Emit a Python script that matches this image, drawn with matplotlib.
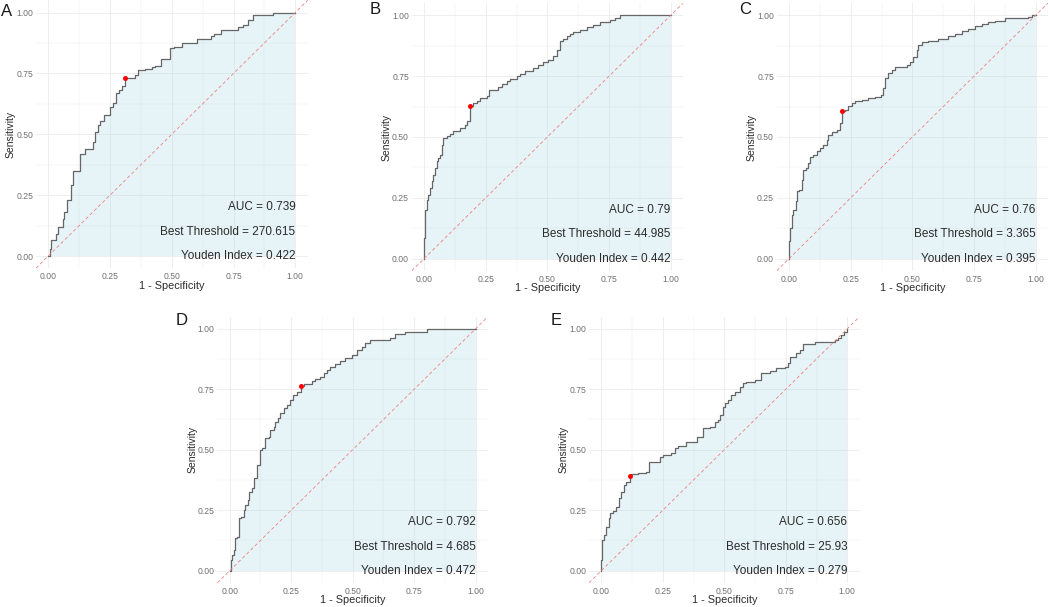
import matplotlib
matplotlib.use('Agg')
import matplotlib.pyplot as plt

plt.rcParams['font.family'] = ['Liberation Sans', 'DejaVu Sans']

# ── ROC curve vertices (fpr, tpr) ─────────────────────────────────────────────
fpr_a = [0, 0.005, 0.01, 0.03, 0.04, 0.06, 0.065, 0.075, 0.09, 0.10, 0.128, 0.15, 0.18, 0.19,
         0.20, 0.21, 0.225, 0.25, 0.26, 0.275, 0.285, 0.30, 0.31, 0.35, 0.365, 0.39, 0.42, 0.43,
         0.455, 0.493, 0.51, 0.54, 0.60, 0.66, 0.67, 0.70, 0.77, 0.79, 0.81, 0.83, 0.91, 1.0]
tpr_a = [0, 0.03, 0.066, 0.09, 0.12, 0.15, 0.18, 0.23, 0.29, 0.35, 0.42, 0.44, 0.47, 0.51,
         0.54, 0.555, 0.58, 0.61, 0.63, 0.67, 0.68, 0.70, 0.73, 0.745, 0.765, 0.77, 0.775, 0.78,
         0.81, 0.855, 0.86, 0.875, 0.89, 0.905, 0.91, 0.93, 0.94, 0.95, 0.97, 0.99, 1.0, 1.0]

fpr_b = [0, 0, 0.004, 0.011, 0.018, 0.024, 0.031, 0.038, 0.045, 0.051, 0.058, 0.065, 0.072,
         0.078, 0.092, 0.105, 0.119, 0.146, 0.166, 0.175, 0.186, 0.2, 0.214, 0.227, 0.254, 0.265,
         0.301, 0.315, 0.335, 0.349, 0.376, 0.389, 0.409, 0.443, 0.464, 0.484, 0.504, 0.524,
         0.538, 0.551, 0.565, 0.578, 0.592, 0.605, 0.632, 0.659, 0.686, 0.714, 0.754, 0.774,
         0.795, 1.0]
tpr_b = [0, 0.085, 0.201, 0.242, 0.263, 0.290, 0.318, 0.345, 0.373, 0.40, 0.414, 0.427, 0.468,
         0.496, 0.503, 0.512, 0.526, 0.537, 0.551, 0.564, 0.629, 0.640, 0.649, 0.660, 0.667,
         0.695, 0.704, 0.718, 0.732, 0.740, 0.749, 0.759, 0.773, 0.784, 0.797, 0.808, 0.818,
         0.832, 0.859, 0.893, 0.904, 0.914, 0.923, 0.932, 0.941, 0.951, 0.959, 0.973, 0.982,
         0.989, 1.0, 1.0]

fpr_c = [0, 0, 0.004, 0.011, 0.018, 0.027, 0.034, 0.041, 0.051, 0.058, 0.068, 0.078, 0.085,
         0.099, 0.112, 0.126, 0.139, 0.153, 0.159, 0.173, 0.193, 0.207, 0.214, 0.227, 0.241,
         0.254, 0.268, 0.295, 0.322, 0.349, 0.373, 0.382, 0.389, 0.403, 0.416, 0.430, 0.477,
         0.491, 0.504, 0.518, 0.524, 0.538, 0.565, 0.605, 0.646, 0.673, 0.70, 0.727, 0.754,
         0.781, 0.808, 0.835, 0.876, 0.970, 0.984, 1.0]
tpr_c = [0, 0.071, 0.126, 0.181, 0.201, 0.236, 0.277, 0.284, 0.325, 0.366, 0.373, 0.393, 0.416,
         0.427, 0.441, 0.455, 0.468, 0.489, 0.510, 0.521, 0.530, 0.558, 0.607, 0.612, 0.626,
         0.640, 0.647, 0.653, 0.660, 0.663, 0.671, 0.70, 0.742, 0.763, 0.774, 0.786, 0.795,
         0.81, 0.83, 0.859, 0.879, 0.890, 0.896, 0.904, 0.914, 0.923, 0.934, 0.945, 0.955,
         0.964, 0.973, 0.978, 0.989, 0.992, 1.0, 1.0]

fpr_d = [0, 0.005, 0.009, 0.019, 0.023, 0.030, 0.039, 0.046, 0.057, 0.064, 0.073, 0.080, 0.091,
         0.100, 0.111, 0.122, 0.131, 0.145, 0.159, 0.165, 0.179, 0.186, 0.196, 0.206, 0.220,
         0.233, 0.244, 0.257, 0.274, 0.29, 0.304, 0.335, 0.348, 0.369, 0.382, 0.396, 0.409,
         0.430, 0.450, 0.470, 0.497, 0.518, 0.538, 0.551, 0.572, 0.653, 0.673, 0.714, 0.802, 1.0]
tpr_d = [0, 0.044, 0.065, 0.085, 0.134, 0.140, 0.216, 0.223, 0.251, 0.271, 0.292, 0.326, 0.340,
         0.382, 0.437, 0.499, 0.505, 0.547, 0.554, 0.581, 0.595, 0.616, 0.629, 0.650, 0.671,
         0.685, 0.705, 0.726, 0.740, 0.763, 0.771, 0.784, 0.791, 0.802, 0.815, 0.829, 0.843,
         0.854, 0.868, 0.877, 0.891, 0.912, 0.923, 0.939, 0.953, 0.960, 0.978, 0.988, 1.0, 1.0]

fpr_e = [0, 0, 0.004, 0.011, 0.020, 0.030, 0.037, 0.047, 0.061, 0.070, 0.081, 0.092, 0.102,
         0.115, 0.122, 0.149, 0.183, 0.192, 0.237, 0.251, 0.285, 0.298, 0.312, 0.346, 0.390,
         0.413, 0.440, 0.461, 0.474, 0.481, 0.495, 0.501, 0.515, 0.528, 0.542, 0.562, 0.576,
         0.589, 0.623, 0.650, 0.684, 0.711, 0.745, 0.759, 0.766, 0.793, 0.806, 0.820, 0.867,
         0.949, 0.962, 0.976, 0.986, 1.0]
tpr_e = [0, 0.044, 0.127, 0.147, 0.182, 0.216, 0.240, 0.248, 0.264, 0.299, 0.326, 0.354, 0.368,
         0.391, 0.399, 0.402, 0.409, 0.450, 0.468, 0.478, 0.488, 0.506, 0.515, 0.533, 0.554,
         0.588, 0.595, 0.616, 0.623, 0.643, 0.678, 0.691, 0.705, 0.726, 0.740, 0.760, 0.774,
         0.781, 0.788, 0.815, 0.826, 0.836, 0.843, 0.860, 0.884, 0.898, 0.912, 0.937, 0.946,
         0.953, 0.960, 0.974, 0.988, 1.0]

# best (Youden) points
best_fpr = [0.31, 0.186, 0.214, 0.29, 0.115]
best_tpr = [0.73, 0.629, 0.607, 0.763, 0.391]

labels = ['A', 'B', 'C', 'D', 'E']
auc = ['0.739', '0.79', '0.76', '0.792', '0.656']
threshold = ['270.615', '44.985', '3.365', '4.685', '25.93']
youden = ['0.422', '0.442', '0.395', '0.472', '0.279']

# panel data-area in pixels: x(0), x(1), y(1), y(0)
W, H = 1049, 607
panel_px = [
    (48.3, 295.3, 12.5, 256.0),
    (424.0, 670.7, 15.3, 258.7),
    (789.0, 1035.7, 15.3, 258.7),
    (229.7, 475.7, 328.7, 570.7),
    (601.3, 847.3, 328.7, 570.7),
]
letter_px = [(7, 11), (375.5, 10), (745.5, 10), (181.5, 321), (556, 321)]

curves = [(fpr_a, tpr_a), (fpr_b, tpr_b), (fpr_c, tpr_c), (fpr_d, tpr_d), (fpr_e, tpr_e)]

fig = plt.figure(figsize=(W / 100, H / 100), dpi=100)

grid_col = '#EBEBEB'
ticks = [0, 0.25, 0.5, 0.75, 1.0]
minor = [0.125, 0.375, 0.625, 0.875]

for i, ((fpr, tpr), (x0, x1, yt, yb)) in enumerate(zip(curves, panel_px)):
    w = x1 - x0
    h = yb - yt
    left = x0 - 0.05 * w
    bottom = yb + 0.05 * h
    ax = fig.add_axes([left / W, 1 - bottom / H, 1.1 * w / W, 1.1 * h / H])
    ax.set_xlim(-0.05, 1.05)
    ax.set_ylim(-0.05, 1.05)

    for s in ax.spines.values():
        s.set_visible(False)
    ax.set_xticks(ticks)
    ax.set_yticks(ticks)
    ax.set_xticks(minor, minor=True)
    ax.set_yticks(minor, minor=True)
    ax.set_xticklabels([f'{t:.2f}' for t in ticks])
    ax.set_yticklabels([f'{t:.2f}' for t in ticks])
    ax.tick_params(which='both', length=0, labelsize=6.2, labelcolor='#707070')
    ax.tick_params(axis='y', pad=2)
    ax.tick_params(axis='x', pad=3)
    ax.grid(True, which='major', color=grid_col, lw=0.6)
    ax.grid(True, which='minor', color=grid_col, lw=0.35)
    ax.set_axisbelow(True)

    ax.fill_between(fpr, tpr, 0, step='post', color='lightblue', alpha=0.3, lw=0)
    ax.step(fpr, tpr, where='post', color='#666666', lw=0.9)
    ax.axline((0, 0), (1, 1), color='#F08080', lw=0.6, ls=(0, (4, 3)))
    ax.plot(best_fpr[i], best_tpr[i], 'o', color='red', ms=3.6, mec='none', zorder=5)

    txt = dict(ha='right', va='center', fontsize=8.5, color='#2b2b2b')
    ax.text(1.0, 0.2, f'AUC = {auc[i]}', **txt)
    ax.text(1.0, 0.1, f'Best Threshold = {threshold[i]}', **txt)
    ax.text(1.0, 0.0, f'Youden Index = {youden[i]}', **txt)

    ax.set_xlabel('1 - Specificity', fontsize=7.8, color='#2b2b2b')
    ax.set_ylabel('Sensitivity', fontsize=7.5, color='#2b2b2b')
    ax.xaxis.set_label_coords(0.5, -0.065)
    ax.xaxis.label.set_va('center')
    ax.yaxis.set_label_coords(-0.093, 0.5)
    ax.yaxis.label.set_va('center')

    lx, ly = letter_px[i]
    fig.text(lx / W, 1 - ly / H, labels[i], fontsize=12, ha='center', va='center',
             color='#1a1a1a')

fig.savefig('out.png', dpi=100)
